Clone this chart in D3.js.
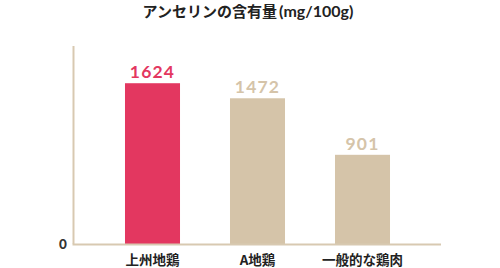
<!DOCTYPE html>
<html>
<head>
<meta charset="utf-8">
<script src="https://cdn.jsdelivr.net/npm/d3@7"></script>
<style>
  html, body { margin: 0; padding: 0; background: #fff; }
  svg { display: block; }
</style>
</head>
<body>
<svg id="chart" width="500" height="268"></svg>
<script>
const titleMain = "アンセリンの含有量";
const titleUnit = "(mg/100g)";
const categories = ["上州地鶏", "A地鶏", "一般的な鶏肉"];
const values = [1624, 1472, 901];
const barColors = ["#e33760", "#d5c4a9", "#d5c4a9"];
const yDomain = [0, 2000];
const yTickLabels = ["0"];

const svg = d3.select("#chart");
const x = d3.scaleBand().domain(categories).range([100, 415]).paddingInner(0.476).paddingOuter(0.238);
const y = d3.scaleLinear().domain(yDomain).range([244, 46]);

const axisColor = "#d8c9b1";
svg.append("line").attr("x1", 73.5).attr("x2", 73.5).attr("y1", y(yDomain[1])).attr("y2", y(0))
  .attr("stroke", axisColor).attr("stroke-width", 2);

svg.selectAll("rect.bar").data(values).enter().append("rect")
  .attr("class", "bar")
  .attr("x", (d, i) => x(categories[i]))
  .attr("width", x.bandwidth())
  .attr("y", d => y(d))
  .attr("height", d => y(0) - y(d))
  .attr("fill", (d, i) => barColors[i]);

svg.append("line").attr("x1", 72.5).attr("x2", 441).attr("y1", 244.5).attr("y2", 244.5)
  .attr("stroke", axisColor).attr("stroke-width", 2);

svg.selectAll("text.val").data(values).enter().append("text")
  .attr("class", "val")
  .attr("x", (d, i) => x(categories[i]) + x.bandwidth() / 2)
  .attr("y", d => y(d) - 5)
  .attr("text-anchor", "middle")
  .attr("font-family", "Lato, 'Open Sans', sans-serif")
  .attr("font-weight", 700)
  .attr("font-size", 17.5)
  .attr("letter-spacing", 1.2)
  .attr("fill", (d, i) => barColors[i])
  .text(d => d);

svg.selectAll("text.cat").data(categories).enter().append("text")
  .attr("class", "cat")
  .attr("x", d => x(d) + x.bandwidth() / 2)
  .attr("y", 265)
  .attr("text-anchor", "middle")
  .attr("font-family", "'Noto Sans CJK JP', sans-serif")
  .attr("font-weight", 700)
  .attr("font-size", 13.5)
  .attr("fill", "#222")
  .text(d => d);

svg.selectAll("text.ytick").data(yTickLabels).enter().append("text")
  .attr("class", "ytick")
  .attr("x", 63)
  .attr("y", d => y(+d) + 4.5)
  .attr("text-anchor", "middle")
  .attr("font-family", "Lato, sans-serif")
  .attr("font-weight", 900)
  .attr("font-size", 13.5)
  .attr("fill", "#333")
  .text(d => d);

const t = svg.append("text")
  .attr("x", 248)
  .attr("y", 17)
  .attr("text-anchor", "middle")
  .attr("font-family", "'Noto Sans CJK JP', sans-serif")
  .attr("font-weight", 700)
  .attr("font-size", 15)
  .attr("fill", "#222");
t.append("tspan").text(titleMain);
t.append("tspan").attr("font-family", "Lato, sans-serif").attr("font-size", 16).attr("dx", 2).text(titleUnit);
</script>
</body>
</html>
